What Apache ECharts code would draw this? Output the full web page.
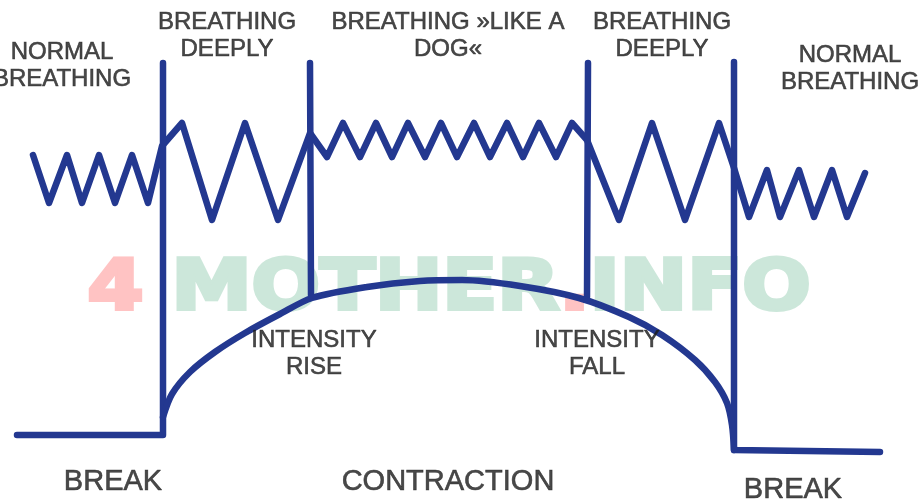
<!DOCTYPE html>
<html>
<head>
<meta charset="utf-8">
<script src="https://cdn.jsdelivr.net/npm/echarts@6/dist/echarts.min.js"></script>
<style>html,body{margin:0;padding:0;background:#fff}#c{width:924px;height:501px}</style>
</head>
<body>
<div id="c"></div>
<script>
// Breathing trace (x, y)
var breathing = [
  [33,155],[49,203],[67,155],[82,203],[99,155],[115,203],[132,155],[148,203],
  [162,146],[182,123],[212,220],[245,123],[278,220],[310,133],
  [327,157],[343,123],[360,157],[376,123],[392,157],[408,123],[425,157],[441,123],
  [457,157],[474,123],[490,157],[507,123],[523,157],[539,123],[556,157],[572,123],
  [587,140],[619,220],[652,123],[685,220],[719,123],[734,168],
  [749,217],[767,170],[780,217],[799,170],[814,217],[832,170],[847,217],[865,173]
];
// Phase dividers
var divider1 = [[17,435],[163,435],[163,63]];
var divider2 = [[311,295],[310,63]];
var divider3 = [[587,297],[588,63]];
var divider4 = [[734,62],[734,450],[880,452]];
// Contraction intensity curve
var contraction = [
  [163,417],[172,394],[190,372],[215,352],[245,333],[280,314],[312,298],[367,287],[420,281],
  [462,280],[520,286],[579,298],[629,317],[662,335],[695,360],[715,382],[727,403],
  [732,425],[734,450]
];
// Annotation texts and their anchors
var topLabels = ['NORMAL\nBREATHING','BREATHING\nDEEPLY','BREATHING »LIKE A\nDOG«','BREATHING\nDEEPLY','NORMAL\nBREATHING','INTENSITY\nRISE','INTENSITY\nFALL'];
var topAnchors = [[62,66],[227,36],[448,36],[662,36],[850,69],[314,354],[597,354]];
var bottomLabels = ['BREAK','CONTRACTION','BREAK'];
var bottomAnchors = [[113,482],[448,482],[793,490]];

var LINE = '#233890';
function lineSeries(d, smooth){
  return {type:'line', data:d, symbol:'none', smooth:smooth||false, z:3,
    lineStyle:{color:LINE, width:6.5, cap:'round', join:'round'}, animation:false};
}
var labelBase = {show:true, position:'inside', formatter:function(p){return p.name;},
  color:'#1a1a1a', textBorderWidth:0.6, textBorderColor:'#2a2a2a',
  fontFamily:'Liberation Sans, Arial, sans-serif', align:'center'};
var chart = echarts.init(document.getElementById('c'), null, {renderer:'canvas'});
chart.setOption({
  backgroundColor:'#ffffff',
  animation:false,
  grid:{left:0,right:0,top:0,bottom:0},
  xAxis:{type:'value',min:0,max:924,show:false},
  yAxis:{type:'value',min:0,max:501,inverse:true,show:false},
  series:[
    lineSeries(breathing),
    lineSeries(divider1),
    lineSeries(divider2),
    lineSeries(divider3),
    lineSeries(divider4),
    lineSeries(contraction, 0.3),
    {type:'scatter', symbolSize:0, z:5, animation:false,
      data: topAnchors.map(function(p,i){return {value:p, name:topLabels[i]};}),
      label:Object.assign({}, labelBase, {fontSize:24, lineHeight:27})},
    {type:'scatter', symbolSize:0, z:5, animation:false,
      data: bottomAnchors.map(function(p,i){return {value:p, name:bottomLabels[i]};}),
      label:Object.assign({}, labelBase, {fontSize:29})}
  ],
  graphic:[{
    type:'text', x:449, y:291, z:-10, scaleX:1.15, silent:true,
    style:{
      text:'{p|4} {g|MOTHER}{p|.}{g|INFO}',
      align:'center', verticalAlign:'middle',
      font:'bold 70px "DejaVu Sans", sans-serif',
      rich:{
        p:{fill:'#ffc3c3', stroke:'#ffc3c3', lineWidth:4, font:'bold 70px "DejaVu Sans", sans-serif'},
        g:{fill:'#cce7da', stroke:'#cce7da', lineWidth:4, font:'bold 70px "DejaVu Sans", sans-serif'}
      }
    }
  }]
});
</script>
</body>
</html>
